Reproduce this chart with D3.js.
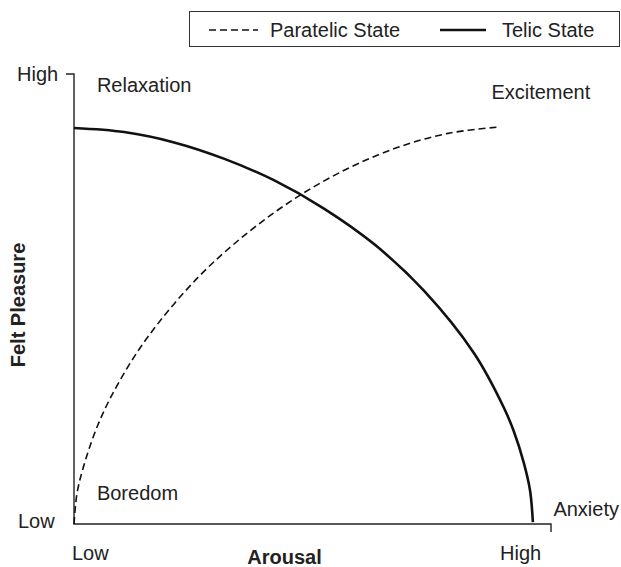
<!DOCTYPE html>
<head>
  <meta charset="utf-8">
  <script src="https://d3js.org/d3.v7.min.js"></script>
  <style>
    body { margin:0; background:#fff; }
    text { font-family: "Liberation Sans", Arial, sans-serif; fill:#222; }
  </style>
</head>
<body>
<script>
  // data (arousal 0-10, felt pleasure 0-10)
  var telic = [
    [0, 8.80], [1.05, 8.71], [2.10, 8.48], [3.14, 8.12], [4.19, 7.64], [5.24, 7.01],
    [6.29, 6.22], [7.34, 5.18], [8.39, 3.79], [9.01, 2.59], [9.22, 2.06],
    [9.43, 1.36], [9.56, 0.75], [9.62, 0.04]
  ];
  var paratelic = [
    [0, 0], [0.06, 0.66], [0.19, 1.24], [0.50, 2.20], [0.92, 3.11], [1.55, 4.16],
    [2.60, 5.48], [3.65, 6.48], [4.70, 7.28], [5.74, 7.90], [6.79, 8.37],
    [7.84, 8.68], [8.89, 8.82]
  ];
  var tickLabels = ["Low", "High"];
  var regionLabels = [
    {name: "Relaxation", x: 0.48, y: 9.6},
    {name: "Excitement", x: 8.75, y: 9.45},
    {name: "Boredom", x: 0.48, y: 0.53},
    {name: "Anxiety", x: 10.05, y: 0.18}
  ];
  var legendItems = [
    {name: "Paratelic State", dash: "7,4", width: 1.6},
    {name: "Telic State", dash: null, width: 2.6}
  ];

  var W = 621, H = 567;
  var margin = {top: 74, right: 70, bottom: 43, left: 74};
  var width = W - margin.left - margin.right,
      height = H - margin.top - margin.bottom;

  var svg = d3.select("body").append("svg")
    .attr("width", W)
    .attr("height", H);

  var g = svg.append("g")
    .attr("transform", "translate(" + margin.left + "," + margin.top + ")");

  var x = d3.scaleLinear().domain([0, 10]).range([0, width]);
  var y = d3.scaleLinear().domain([0, 10]).range([height, 0]);

  // axes: top tick, y axis, x axis, right tick
  g.append("path")
    .attr("d", "M" + (x(0) - 8) + "," + y(10) + "H" + x(0) + "V" + y(0) +
               "H" + x(10) + "V" + (y(0) + 8))
    .attr("fill", "none")
    .attr("stroke", "#222")
    .attr("stroke-width", 1.4);

  var line = d3.line()
    .x(function(d) { return x(d[0]); })
    .y(function(d) { return y(d[1]); })
    .curve(d3.curveCatmullRom.alpha(0.5));

  g.append("path").datum(paratelic)
    .attr("d", line)
    .attr("fill", "none")
    .attr("stroke", "#111")
    .attr("stroke-width", legendItems[0].width)
    .attr("stroke-dasharray", legendItems[0].dash);

  g.append("path").datum(telic)
    .attr("d", line)
    .attr("fill", "none")
    .attr("stroke", "#111")
    .attr("stroke-width", legendItems[1].width);

  // y tick labels
  g.append("text").attr("x", -57).attr("y", y(10) + 7)
    .style("font-size", "20px").text(tickLabels[1]);
  g.append("text").attr("x", -56).attr("y", y(0) + 4)
    .style("font-size", "20px").text(tickLabels[0]);

  // x tick labels
  g.append("text").attr("x", x(0) - 2).attr("y", height + 36)
    .style("font-size", "20px").text(tickLabels[0]);
  g.append("text").attr("x", x(10) - 51).attr("y", height + 36)
    .style("font-size", "20px").text(tickLabels[1]);

  // region labels
  g.selectAll(".region").data(regionLabels).enter()
    .append("text")
    .attr("class", "region")
    .attr("x", function(d) { return x(d.x); })
    .attr("y", function(d) { return y(d.y); })
    .style("font-size", "20px")
    .text(function(d) { return d.name; });

  // axis titles
  g.append("text")
    .attr("x", width / 2 - 28)
    .attr("y", height + 40)
    .style("text-anchor", "middle")
    .style("font-size", "20px")
    .style("font-weight", "bold")
    .text("Arousal");

  g.append("text")
    .attr("transform", "translate(" + (-49) + "," + (height / 2 + 6) + ") rotate(-90)")
    .style("text-anchor", "middle")
    .style("font-size", "20px")
    .style("font-weight", "bold")
    .text("Felt Pleasure");

  // legend
  var legend = svg.append("g").attr("transform", "translate(189,11)");
  legend.append("rect")
    .attr("x", 0.5).attr("y", 0.5)
    .attr("width", 430).attr("height", 35)
    .attr("fill", "#fff")
    .attr("stroke", "#333")
    .attr("stroke-width", 1);

  var lx = [20, 251];
  var item = legend.selectAll(".item").data(legendItems).enter()
    .append("g")
    .attr("transform", function(d, i) { return "translate(" + lx[i] + ",0)"; });
  item.append("line")
    .attr("x1", 0).attr("x2", function(d, i) { return i === 0 ? 49 : 46; })
    .attr("y1", 19).attr("y2", 19)
    .attr("stroke", "#111")
    .attr("stroke-width", function(d) { return d.width; })
    .attr("stroke-dasharray", function(d) { return d.dash; });
  item.append("text")
    .attr("x", function(d, i) { return i === 0 ? 61 : 62; })
    .attr("y", 26)
    .style("font-size", "20px")
    .text(function(d) { return d.name; });
</script>
</body>
